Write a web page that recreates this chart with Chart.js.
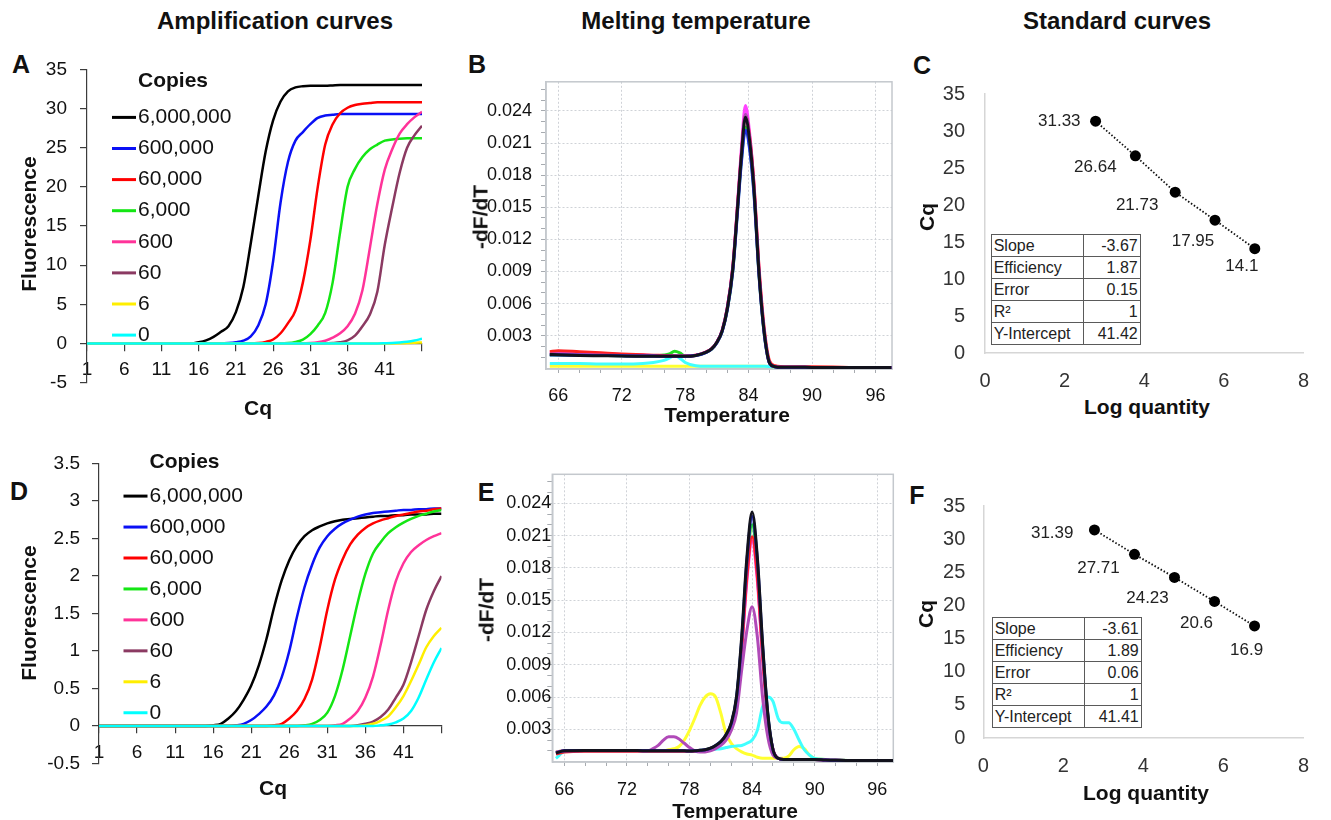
<!DOCTYPE html>
<html lang="en">
<head>
<meta charset="utf-8">
<title>qPCR amplification, melting and standard curves</title>
<script src="https://cdn.jsdelivr.net/npm/chart.js@4.4.1/dist/chart.umd.min.js"></script>
<style>
  html, body { margin: 0; padding: 0; background: #fff; }
  body { position: relative; width: 1331px; height: 820px; overflow: hidden;
         font-family: "Liberation Sans", Arial, Helvetica, sans-serif; color: #111; }
  canvas { position: absolute; }
  .t { position: absolute; transform: translate(-50%, -50%); white-space: nowrap;
       line-height: 1; font-weight: bold; }
  .t.v { transform: translate(-50%, -50%) rotate(-90deg); }
  .head { font-size: 24px; }
  .panel { font-size: 25px; }
  .axis { font-size: 21px; }
  table.stats { position: absolute; border-collapse: collapse; table-layout: fixed;
                font-size: 16px; color: #222; background: #fff; }
  table.stats td { border: 1px solid #5a5a5a; padding: 0 2px; height: 22px;
                   box-sizing: border-box; line-height: 20px; white-space: nowrap; }
  table.stats td.num { text-align: right; }
</style>
</head>
<body>

<!-- column headings -->
<div class="t head" style="left:275px;top:21px">Amplification curves</div>
<div class="t head" style="left:696px;top:21px">Melting temperature</div>
<div class="t head" style="left:1117px;top:21px">Standard curves</div>

<!-- panel letters -->
<div class="t panel" style="left:21px;top:64px">A</div>
<div class="t panel" style="left:477px;top:64px">B</div>
<div class="t panel" style="left:922px;top:65px">C</div>
<div class="t panel" style="left:19px;top:491px">D</div>
<div class="t panel" style="left:486px;top:492px">E</div>
<div class="t panel" style="left:917px;top:495px">F</div>

<canvas id="ampA" width="400" height="362" style="left:30px;top:45px"></canvas>
<canvas id="meltB" width="420" height="347" style="left:480px;top:62px"></canvas>
<canvas id="stdC" width="420" height="331" style="left:905px;top:62px"></canvas>
<canvas id="ampD" width="410" height="347" style="left:40px;top:440px"></canvas>
<canvas id="meltE" width="420" height="342" style="left:486px;top:460px"></canvas>
<canvas id="stdF" width="420" height="302" style="left:905px;top:476px"></canvas>

<!-- axis titles -->
<div class="t axis v" style="left:28px;top:224px">Fluorescence</div>
<div class="t axis" style="left:258px;top:407px">Cq</div>
<div class="t axis v" style="left:480px;top:217px">-dF/dT</div>
<div class="t axis" style="left:727px;top:414px">Temperature</div>
<div class="t axis v" style="left:926px;top:217px">Cq</div>
<div class="t axis" style="left:1147px;top:406px">Log quantity</div>
<div class="t axis v" style="left:28px;top:613px">Fluorescence</div>
<div class="t axis" style="left:273px;top:787px">Cq</div>
<div class="t axis v" style="left:486px;top:610px">-dF/dT</div>
<div class="t axis" style="left:735px;top:810px">Temperature</div>
<div class="t axis v" style="left:925px;top:614px">Cq</div>
<div class="t axis" style="left:1146px;top:792px">Log quantity</div>

<script>
Chart.defaults.font.family = '"Liberation Sans", Arial, Helvetica, sans-serif';
Chart.defaults.color = '#111';
Chart.defaults.animation = false;
Chart.defaults.plugins.legend.display = false;
Chart.defaults.plugins.tooltip.enabled = false;

// ---------- amplification curves (A, D) ----------
const cycles = [1, 2, 3, 4, 5, 6, 7, 8, 9, 10, 11, 12, 13, 14, 15, 16, 17, 18, 19, 20, 21, 22, 23,
  24, 25, 26, 27, 28, 29, 30, 31, 32, 33, 34, 35, 36, 37, 38, 39, 40, 41, 42, 43, 44, 45, 46];
const cycleTicks = [1, 6, 11, 16, 21, 26, 31, 36, 41, 46];
const copyLabels = ['6,000,000', '600,000', '60,000', '6,000', '600', '60', '6', '0'];
const copyColors = ['#000000', '#0a10f5', '#ff0000', '#14e614', '#ff3399', '#8b3a62', '#ffee00', '#00ffff'];

const ampA6000000 = [0, 0, 0, 0, 0, 0, 0, 0, 0, 0, 0, 0, 0, 0, 0,
  0.15, 0.4, 0.85, 1.5, 2.2, 4.0, 7.2, 12.8, 18.8, 24.5, 28.5, 30.9, 32.2, 32.7, 32.85, 32.9, 32.9, 32.9, 32.95,
  33, 33, 33, 33, 33, 33, 33, 33, 33, 33, 33, 33];
const ampA600000 = [0, 0, 0, 0, 0, 0, 0, 0, 0, 0, 0, 0, 0, 0, 0, 0, 0, 0, 0,
  0.05, 0.15, 0.35, 0.9, 2.3, 5.0, 10.5, 18.0, 23.2, 25.9, 27.0, 28.0, 28.8, 29.1, 29.2,
  29.3, 29.3, 29.3, 29.3, 29.3, 29.3, 29.3, 29.3, 29.3, 29.3, 29.3, 29.3];
const ampA60000 = [0, 0, 0, 0, 0, 0, 0, 0, 0, 0, 0, 0, 0, 0, 0, 0, 0, 0, 0, 0, 0, 0, 0,
  0.05, 0.2, 0.5, 1.3, 2.6, 4.2, 7.8, 13.2, 20, 25.4, 28, 29.4, 30.1, 30.45, 30.6, 30.7,
  30.8, 30.8, 30.8, 30.8, 30.8, 30.8, 30.8];
const ampA6000 = [0, 0, 0, 0, 0, 0, 0, 0, 0, 0, 0, 0, 0, 0, 0, 0, 0, 0, 0, 0, 0, 0, 0, 0, 0, 0, 0,
  0.05, 0.2, 0.5, 1.2, 2.3, 3.9, 7.8, 14.2, 20, 22.3, 23.8, 24.8, 25.4, 25.9, 26.05, 26.15, 26.2, 26.2, 26.2];
const ampA600 = [0, 0, 0, 0, 0, 0, 0, 0, 0, 0, 0, 0, 0, 0, 0, 0, 0, 0, 0, 0, 0, 0, 0, 0, 0, 0, 0, 0, 0, 0,
  0.05, 0.15, 0.35, 0.75, 1.3, 2.2, 3.8, 6.8, 12.2, 17.8, 22.2, 24.8, 26.8, 28.0, 28.9, 29.6];
const ampA60 = [0, 0, 0, 0, 0, 0, 0, 0, 0, 0, 0, 0, 0, 0, 0, 0, 0, 0, 0, 0, 0, 0, 0, 0, 0, 0, 0, 0, 0, 0,
  0, 0, 0, 0.05, 0.15, 0.4, 1.0, 2.2, 3.7, 6.6, 12.6, 17.4, 21.8, 25.0, 26.6, 27.8];
const ampA6 = [0, 0, 0, 0, 0, 0, 0, 0, 0, 0, 0, 0, 0, 0, 0, 0, 0, 0, 0, 0, 0, 0, 0, 0, 0, 0, 0, 0, 0, 0,
  0, 0, 0, 0, 0, 0, 0, 0, 0, 0, 0, 0, 0.02, 0.05, 0.08, 0.12];
const ampA0 = [0, 0, 0, 0, 0, 0, 0, 0, 0, 0, 0, 0, 0, 0, 0, 0, 0, 0, 0, 0, 0, 0, 0, 0, 0, 0, 0, 0, 0, 0,
  0, 0, 0, 0, 0, 0, 0, 0, 0, 0, 0.02, 0.05, 0.12, 0.22, 0.38, 0.6];

const ampD6000000 = [0, 0, 0, 0, 0, 0, 0, 0, 0, 0, 0, 0, 0, 0, 0,
  0.01, 0.03, 0.1, 0.2, 0.35, 0.54, 0.81, 1.16, 1.58, 1.94, 2.21, 2.4, 2.53, 2.61, 2.66, 2.7, 2.73, 2.75,
  2.76, 2.77, 2.78, 2.79, 2.8, 2.8, 2.81, 2.81, 2.82, 2.82, 2.82, 2.83, 2.83];
const ampD600000 = [0, 0, 0, 0, 0, 0, 0, 0, 0, 0, 0, 0, 0, 0, 0, 0, 0, 0,
  0.01, 0.03, 0.08, 0.16, 0.26, 0.41, 0.65, 1.0, 1.45, 1.85, 2.15, 2.38, 2.53, 2.63, 2.7, 2.75,
  2.79, 2.82, 2.84, 2.85, 2.86, 2.87, 2.88, 2.88, 2.89, 2.89, 2.9, 2.9];
const ampD60000 = [0, 0, 0, 0, 0, 0, 0, 0, 0, 0, 0, 0, 0, 0, 0, 0, 0, 0, 0, 0, 0, 0, 0,
  0.01, 0.03, 0.1, 0.2, 0.36, 0.62, 1.05, 1.55, 1.95, 2.22, 2.42, 2.55, 2.64, 2.7, 2.74, 2.77,
  2.8, 2.82, 2.84, 2.86, 2.87, 2.89, 2.9];
const ampD6000 = [0, 0, 0, 0, 0, 0, 0, 0, 0, 0, 0, 0, 0, 0, 0, 0, 0, 0, 0, 0, 0, 0, 0, 0, 0, 0, 0,
  0.01, 0.03, 0.08, 0.18, 0.4, 0.75, 1.2, 1.65, 2.03, 2.3, 2.45, 2.57, 2.65, 2.71, 2.76, 2.8, 2.83, 2.86, 2.88];
const ampD600 = [0, 0, 0, 0, 0, 0, 0, 0, 0, 0, 0, 0, 0, 0, 0, 0, 0, 0, 0, 0, 0, 0, 0, 0, 0, 0, 0, 0, 0, 0, 0,
  0.01, 0.03, 0.1, 0.2, 0.38, 0.66, 1.08, 1.55, 1.93, 2.17, 2.32, 2.41, 2.48, 2.53, 2.57];
const ampD60 = [0, 0, 0, 0, 0, 0, 0, 0, 0, 0, 0, 0, 0, 0, 0, 0, 0, 0, 0, 0, 0, 0, 0, 0, 0, 0, 0, 0, 0, 0,
  0, 0, 0, 0, 0.01, 0.03, 0.06, 0.12, 0.22, 0.38, 0.55, 0.85, 1.2, 1.55, 1.8, 2.0];
const ampD6 = [0, 0, 0, 0, 0, 0, 0, 0, 0, 0, 0, 0, 0, 0, 0, 0, 0, 0, 0, 0, 0, 0, 0, 0, 0, 0, 0, 0, 0, 0,
  0, 0, 0, 0, 0, 0.01, 0.03, 0.07, 0.13, 0.25, 0.4, 0.6, 0.82, 1.05, 1.2, 1.31];
const ampD0 = [0, 0, 0, 0, 0, 0, 0, 0, 0, 0, 0, 0, 0, 0, 0, 0, 0, 0, 0, 0, 0, 0, 0, 0, 0, 0, 0, 0, 0, 0,
  0, 0, 0, 0, 0, 0, 0, 0.01, 0.02, 0.05, 0.1, 0.2, 0.38, 0.62, 0.85, 1.04];

// ---------- melting curves (B, E) ----------
const meltColors = ['#12121c', '#1e2ee6', '#ff2020', '#22dd22', '#ff44ff', '#b04ab8', '#ffff30', '#40ffff'];
const meltOrder = [0, 1, 3, 5, 4, 2, 7, 6];
const tempTicks = [66, 68, 70, 72, 74, 76, 78, 80, 82, 84, 86, 88, 90, 92, 94, 96];
const tempLabels = [66, 72, 78, 84, 90, 96];
const dfdtTicks = [0.001, 0.002, 0.003, 0.004, 0.005, 0.006, 0.007, 0.008, 0.009, 0.010, 0.011, 0.012, 0.013,
  0.014, 0.015, 0.016, 0.017, 0.018, 0.019, 0.020, 0.021, 0.022, 0.023, 0.024, 0.025, 0.026];
const dfdtLabels = [0.003, 0.006, 0.009, 0.012, 0.015, 0.018, 0.021, 0.024];

const tempB = [65.2, 66, 68, 70, 72, 74, 75, 76, 76.5, 77, 77.5, 78, 79, 80, 80.5, 81, 81.5, 82, 82.5, 83,
  83.3, 83.7, 84.1, 84.5, 85, 85.5, 86, 86.5, 87, 88, 90, 92, 94, 96, 97.5];
const meltB6000000 = [0.00125, 0.00122, 0.00116, 0.00113, 0.0011, 0.00108, 0.00107, 0.00107, 0.00107, 0.00107,
  0.00107, 0.00107, 0.00116, 0.00146, 0.00177, 0.00238, 0.00345, 0.0056, 0.0092, 0.0156,
  0.0196, 0.0234, 0.0212, 0.0168, 0.0086, 0.0031, 0.0004, 0.0001, 0.00005, 0.00005, 0.00004, 0.00003, 0.00003, 0.00003, 0.00003];
const meltB600000 = [0.0012, 0.0012, 0.00118, 0.00115, 0.00112, 0.0011, 0.0011, 0.00108, 0.00108, 0.00108,
  0.00108, 0.00108, 0.00115, 0.00145, 0.00175, 0.00235, 0.0034, 0.0055, 0.009, 0.0152,
  0.019, 0.0222, 0.0204, 0.0163, 0.0084, 0.003, 0.0004, 0.0001, 0.00005, 0.00005, 0.00004, 0.00003, 0.00003, 0.00003, 0.00003];
const meltB60000 = [0.0015, 0.0016, 0.0015, 0.0014, 0.0013, 0.00122, 0.00118, 0.00115, 0.00113, 0.00112,
  0.0011, 0.0011, 0.00118, 0.0015, 0.0018, 0.0024, 0.0035, 0.0057, 0.0094, 0.0158,
  0.0198, 0.0236, 0.0216, 0.0173, 0.0092, 0.0035, 0.0006, 0.0002, 0.00012, 0.0001, 0.0001, 0.00008, 0.00003, 0.00003, 0.00003];
const meltB6000 = [0.0012, 0.0012, 0.00118, 0.00115, 0.00112, 0.0011, 0.00112, 0.0012, 0.0013, 0.00155,
  0.0014, 0.0011, 0.00115, 0.00145, 0.00175, 0.00235, 0.0034, 0.0055, 0.009, 0.0154,
  0.0192, 0.0225, 0.0206, 0.0165, 0.0085, 0.003, 0.0004, 0.0001, 0.00005, 0.00005, 0.00004, 0.00003, 0.00003, 0.00003, 0.00003];
const meltB600 = [0.0014, 0.0014, 0.00135, 0.0013, 0.00125, 0.0012, 0.00115, 0.00112, 0.0011, 0.0011,
  0.0011, 0.0011, 0.00118, 0.0015, 0.0018, 0.0024, 0.0035, 0.0057, 0.0094, 0.016,
  0.0203, 0.0245, 0.0219, 0.0172, 0.0089, 0.0032, 0.0004, 0.0001, 0.00005, 0.00005, 0.00004, 0.00003, 0.00003, 0.00003, 0.00003];
const meltB60 = [0.0013, 0.0013, 0.00125, 0.0012, 0.00115, 0.0011, 0.0011, 0.00108, 0.00108, 0.00108,
  0.00108, 0.00108, 0.00116, 0.00147, 0.00178, 0.0024, 0.0035, 0.0057, 0.0093, 0.0157,
  0.0197, 0.0237, 0.0214, 0.017, 0.0088, 0.0032, 0.0004, 0.0001, 0.00005, 0.00005, 0.00004, 0.00003, 0.00003, 0.00003, 0.00003];
const meltB6 = [0.00015, 0.00015, 0.00015, 0.00015, 0.00015, 0.00015, 0.00015, 0.00015, 0.00015, 0.00015,
  0.00015, 0.00015, 0.00015, 0.00015, 0.00015, 0.00015, 0.00015, 0.00015, 0.00015, 0.00015,
  0.00015, 0.00015, 0.00015, 0.00015, 0.00015, 0.00015, 0.00012, 0.00008, 0.00005, 0.00005, 0.00004, 0.00003, 0.00003, 0.00003, 0.00003];
const meltB0 = [0.0004, 0.0004, 0.0004, 0.00035, 0.00035, 0.0004, 0.0005, 0.0007, 0.0009, 0.00115,
  0.0009, 0.0005, 0.0002, 0.00015, 0.00015, 0.00015, 0.00015, 0.00015, 0.00015, 0.00015,
  0.00015, 0.00015, 0.00015, 0.00015, 0.00015, 0.00015, 0.00012, 0.00008, 0.00005, 0.00005, 0.00004, 0.00003, 0.00003, 0.00003, 0.00003];

const tempE = [65.2, 66, 68, 70, 72, 73, 74, 74.5, 75, 75.5, 76, 76.5, 77, 77.5, 78, 78.5, 79, 79.5, 80, 80.5,
  81, 81.5, 82, 82.5, 83, 83.5, 84, 84.5, 85, 85.5, 86, 86.5, 87, 87.5, 88, 88.5, 89, 89.5, 90, 91, 92, 94, 96, 97.5];
const meltE6000000 = [0.0008, 0.001, 0.00102, 0.00102, 0.00102, 0.00102, 0.001, 0.001, 0.001, 0.001,
  0.001, 0.001, 0.001, 0.001, 0.00098, 0.001, 0.00105, 0.0011, 0.00124, 0.0015,
  0.00186, 0.0025, 0.0036, 0.006, 0.0116, 0.019, 0.0232, 0.019, 0.011, 0.0045,
  0.0011, 0.0003, 0.0002, 0.0002, 0.0002, 0.0002, 0.0002, 0.0002, 0.0002, 0.00015, 0.00012, 0.0001, 0.0001, 0.0001];
const meltE600000 = [0.0008, 0.001, 0.00102, 0.00102, 0.00102, 0.00102, 0.001, 0.001, 0.001, 0.001,
  0.001, 0.001, 0.001, 0.001, 0.00098, 0.001, 0.00105, 0.0011, 0.00123, 0.0015,
  0.00185, 0.0025, 0.0035, 0.0059, 0.0113, 0.0186, 0.0228, 0.0187, 0.0108, 0.0044,
  0.0011, 0.0003, 0.0002, 0.0002, 0.0002, 0.0002, 0.0002, 0.0002, 0.0002, 0.00015, 0.00012, 0.0001, 0.0001, 0.0001];
const meltE60000 = [0.0007, 0.0009, 0.00095, 0.00095, 0.00095, 0.00095, 0.00095, 0.00095, 0.00095, 0.00095,
  0.00095, 0.00095, 0.00095, 0.00095, 0.00095, 0.00097, 0.001, 0.00108, 0.0012, 0.00145,
  0.0018, 0.0024, 0.0034, 0.0056, 0.0105, 0.0172, 0.0209, 0.0172, 0.0099, 0.0041,
  0.0011, 0.0003, 0.0002, 0.0002, 0.0002, 0.0002, 0.0002, 0.0002, 0.0002, 0.00015, 0.00012, 0.0001, 0.0001, 0.0001];
const meltE6000 = [0.0008, 0.001, 0.001, 0.001, 0.001, 0.001, 0.001, 0.001, 0.001, 0.001,
  0.001, 0.001, 0.001, 0.001, 0.00098, 0.001, 0.00104, 0.0011, 0.00122, 0.00148,
  0.00183, 0.0024, 0.0035, 0.0058, 0.011, 0.018, 0.022, 0.018, 0.0104, 0.0043,
  0.0011, 0.0003, 0.0002, 0.0002, 0.0002, 0.0002, 0.0002, 0.0002, 0.0002, 0.00015, 0.00012, 0.0001, 0.0001, 0.0001];
const meltE600 = [0.0008, 0.001, 0.001, 0.001, 0.001, 0.001, 0.001, 0.001, 0.001, 0.001,
  0.001, 0.001, 0.001, 0.001, 0.00098, 0.001, 0.00103, 0.00108, 0.0012, 0.00145,
  0.0018, 0.0024, 0.0034, 0.0056, 0.0103, 0.0168, 0.0205, 0.0168, 0.0097, 0.004,
  0.0011, 0.0003, 0.0002, 0.0002, 0.0002, 0.0002, 0.0002, 0.0002, 0.0002, 0.00015, 0.00012, 0.0001, 0.0001, 0.0001];
const meltE60 = [0.0009, 0.001, 0.001, 0.001, 0.001, 0.001, 0.001, 0.0012, 0.0015, 0.002,
  0.0023, 0.0023, 0.0021, 0.0017, 0.0013, 0.001, 0.0009, 0.0009, 0.001, 0.0012,
  0.0015, 0.002, 0.0029, 0.0045, 0.0085, 0.0122, 0.0144, 0.0116, 0.006, 0.0023,
  0.0006, 0.0003, 0.0002, 0.0002, 0.0002, 0.0002, 0.0002, 0.0002, 0.0002, 0.00015, 0.00012, 0.0001, 0.0001, 0.0001];
const meltE6 = [0.0009, 0.001, 0.001, 0.001, 0.001, 0.001, 0.001, 0.001, 0.001, 0.001,
  0.0011, 0.0012, 0.0014, 0.002, 0.0029, 0.004, 0.0052, 0.006, 0.0063, 0.006,
  0.0045, 0.0026, 0.0017, 0.0012, 0.0009, 0.0007, 0.0006, 0.0004, 0.0003, 0.0003,
  0.0003, 0.0003, 0.0003, 0.0005, 0.0011, 0.0014, 0.0012, 0.0006, 0.0003, 0.0002, 0.00015, 0.0001, 0.0001, 0.0001];
const meltE0 = [0.0003, 0.0009, 0.001, 0.001, 0.001, 0.001, 0.001, 0.001, 0.001, 0.001,
  0.001, 0.001, 0.001, 0.001, 0.001, 0.001, 0.001, 0.00105, 0.0011, 0.00115,
  0.0012, 0.0013, 0.0014, 0.00145, 0.0015, 0.0017, 0.002, 0.0029, 0.0051, 0.006,
  0.0056, 0.004, 0.0036, 0.0036, 0.003, 0.002, 0.0011, 0.0006, 0.0003, 0.0002, 0.00015, 0.0001, 0.0001, 0.0001];

// ---------- standard curves (C, F) ----------
const logQuantity = [2.778, 3.778, 4.778, 5.778, 6.778];
const cqC = [31.33, 26.64, 21.73, 17.95, 14.1];
const cqF = [31.39, 27.71, 24.23, 20.6, 16.9];
const statNames = ['Slope', 'Efficiency', 'Error', 'R²', 'Y-Intercept'];
const statsC = ['-3.67', '1.87', '0.15', '1', '41.42'];
const statsF = ['-3.61', '1.89', '0.06', '1', '41.41'];

// legend drawn inside the plot: "Copies" heading plus one row per dataset
const copiesLegend = {
  id: 'copiesLegend',
  afterDatasetsDraw(chart, args, opts) {
    const { ctx, chartArea } = chart;
    const x0 = chartArea.left + opts.dx;
    const y0 = chartArea.top + opts.dy;
    ctx.save();
    ctx.textBaseline = 'middle';
    ctx.fillStyle = '#111';
    ctx.font = 'bold 21px "Liberation Sans", Arial, sans-serif';
    ctx.fillText(opts.title, x0 + 26, y0);
    ctx.font = '21px "Liberation Sans", Arial, sans-serif';
    chart.data.datasets.forEach((ds, i) => {
      const y = y0 + opts.firstRow + i * opts.rowGap;
      ctx.strokeStyle = ds.borderColor;
      ctx.lineWidth = 3;
      ctx.beginPath();
      ctx.moveTo(x0, y);
      ctx.lineTo(x0 + 24, y);
      ctx.stroke();
      ctx.fillText(ds.label, x0 + 26, y);
    });
    ctx.restore();
  }
};

// light box round the melt plots
const plotFrame = {
  id: 'plotFrame',
  beforeDatasetsDraw(chart, args, opts) {
    const { ctx, chartArea: a } = chart;
    ctx.save();
    ctx.strokeStyle = opts.color;
    ctx.lineWidth = 1.5;
    ctx.strokeRect(a.left, a.top, a.right - a.left, a.bottom - a.top);
    ctx.restore();
  }
};

// Cq value written beside each standard point
const pointTags = {
  id: 'pointTags',
  afterDatasetsDraw(chart, args, opts) {
    const { ctx } = chart;
    const ds = chart.data.datasets[0];
    const meta = chart.getDatasetMeta(0);
    ctx.save();
    ctx.font = '17px "Liberation Sans", Arial, sans-serif';
    ctx.fillStyle = '#222';
    ctx.textBaseline = 'middle';
    meta.data.forEach((pt, i) => {
      const [dx, dy, align] = opts.nudges[i];
      ctx.textAlign = align;
      ctx.fillText(String(ds.data[i].y), pt.x + dx, pt.y + dy);
    });
    ctx.restore();
  }
};

function amplificationChart(id, series, yRange, box, legend) {
  const ink = '#3c3c3c';
  return new Chart(document.getElementById(id), {
    type: 'line',
    data: {
      datasets: series.map((values, i) => ({
        label: copyLabels[i],
        data: values.map((v, k) => ({ x: cycles[k], y: v })),
        borderColor: copyColors[i],
        borderWidth: 2.5,
        pointRadius: 0,
        cubicInterpolationMode: 'monotone',
        order: series.length - i
      }))
    },
    options: {
      responsive: false,
      layout: { padding: box.padding },
      scales: {
        x: {
          type: 'linear', min: 1, max: 46, position: { y: 0 },
          afterBuildTicks: s => { s.ticks = cycleTicks.map(v => ({ value: v })); },
          afterFit: s => { s.height = 10; },
          grid: { drawOnChartArea: false, tickLength: 7, color: ink, lineWidth: 1.2 },
          border: { color: ink, width: 1.2 },
          ticks: {
            autoSkip: false, maxRotation: 0, padding: box.xPad, font: { size: 19 }, color: '#111',
            callback: v => (v === 46 ? '' : String(v))
          }
        },
        y: {
          min: yRange.min, max: yRange.max,
          afterFit: s => { s.width = box.yWidth; },
          grid: { drawOnChartArea: false, tickLength: 7, color: ink, lineWidth: 1.2 },
          border: { color: ink, width: 1.2 },
          ticks: {
            stepSize: yRange.step, padding: box.yPad, font: { size: 19 }, color: '#111',
            callback: v => String(Math.round(v * 100) / 100)
          }
        }
      },
      plugins: { copiesLegend: legend }
    },
    plugins: [copiesLegend]
  });
}

function meltChart(id, temps, series, range, box) {
  const gridInk = '#cfd2d7';
  const frameInk = '#c4c8cd';
  const tickInk = '#a7abb0';
  const isMajorY = v => dfdtLabels.some(m => Math.abs(m - v) < 1e-7);
  return new Chart(document.getElementById(id), {
    type: 'line',
    data: {
      datasets: series.map((values, i) => ({
        label: copyLabels[i],
        data: values.map((v, k) => ({ x: temps[k], y: v })),
        borderColor: meltColors[i],
        borderWidth: 3,
        pointRadius: 0,
        cubicInterpolationMode: 'monotone',
        order: meltOrder[i]
      }))
    },
    options: {
      responsive: false,
      layout: { padding: box.padding },
      scales: {
        x: {
          type: 'linear', min: range.xMin, max: range.xMax,
          afterBuildTicks: s => { s.ticks = tempTicks.map(v => ({ value: v })); },
          afterFit: s => { s.height = 40; },
          grid: {
            color: c => (c.tick && tempLabels.includes(c.tick.value) ? gridInk : 'rgba(0,0,0,0)'),
            tickColor: tickInk, tickLength: 4, lineWidth: 1
          },
          border: { color: frameInk, width: 1.5, dash: [2, 2] },
          ticks: {
            autoSkip: false, maxRotation: 0, padding: box.xPad, font: { size: 18 }, color: '#111',
            callback: v => (tempLabels.includes(v) ? String(v) : '')
          }
        },
        y: {
          min: range.yMin, max: range.yMax,
          afterBuildTicks: s => { s.ticks = dfdtTicks.map(v => ({ value: v })); },
          afterFit: s => { s.width = box.yWidth; },
          grid: {
            color: c => (c.tick && isMajorY(c.tick.value) ? gridInk : 'rgba(0,0,0,0)'),
            tickColor: tickInk, tickLength: 5, lineWidth: 1
          },
          border: { color: frameInk, width: 1.5, dash: [2, 2] },
          ticks: {
            autoSkip: false, padding: box.yPad, font: { size: 18 }, color: '#111',
            callback: v => (isMajorY(v) ? v.toFixed(3) : '')
          }
        }
      },
      plugins: { plotFrame: { color: frameInk } }
    },
    plugins: [plotFrame]
  });
}

function standardChart(id, cq, box, nudges) {
  const axisInk = '#d6d6d6';
  return new Chart(document.getElementById(id), {
    type: 'scatter',
    data: {
      datasets: [{
        data: logQuantity.map((x, i) => ({ x, y: cq[i] })),
        showLine: true,
        borderColor: '#111',
        borderWidth: 1.8,
        borderDash: [1.5, 2],
        pointRadius: 5.5,
        pointBackgroundColor: '#000',
        pointBorderWidth: 0
      }]
    },
    options: {
      responsive: false,
      layout: { padding: box.padding },
      scales: {
        x: {
          min: 0, max: 8,
          afterFit: s => { s.height = 40; },
          grid: { display: false, drawTicks: false },
          border: { color: axisInk, width: 1.5 },
          ticks: { stepSize: 2, padding: 16, font: { size: 20 }, color: '#333' }
        },
        y: {
          min: 0, max: 35,
          afterFit: s => { s.width = box.yWidth; },
          grid: { display: false, drawTicks: false },
          border: { color: axisInk, width: 1.5 },
          ticks: { stepSize: 5, padding: box.yPad, font: { size: 20 }, color: '#333' }
        }
      },
      plugins: { pointTags: { nudges } }
    },
    plugins: [pointTags]
  });
}

function statsTable(values, left, top) {
  const table = document.createElement('table');
  table.className = 'stats';
  table.style.left = left + 'px';
  table.style.top = top + 'px';
  table.style.width = '149px';
  const cols = document.createElement('colgroup');
  cols.innerHTML = '<col style="width:92.5px"><col style="width:56.5px">';
  table.appendChild(cols);
  statNames.forEach((name, i) => {
    const row = table.insertRow();
    row.insertCell().textContent = name;
    const cell = row.insertCell();
    cell.className = 'num';
    cell.textContent = values[i];
  });
  document.body.appendChild(table);
}

amplificationChart('ampA',
  [ampA6000000, ampA600000, ampA60000, ampA6000, ampA600, ampA60, ampA6, ampA0],
  { min: -5, max: 35, step: 5 },
  { padding: { left: 0, top: 12, right: 2, bottom: 5 }, yWidth: 57, yPad: 13, xPad: 8 },
  { title: 'Copies', dx: 25, dy: 11.5, firstRow: 36.5, rowGap: 31.1 });

amplificationChart('ampD',
  [ampD6000000, ampD600000, ampD60000, ampD6000, ampD600, ampD60, ampD6, ampD0],
  { min: -0.5, max: 3.5, step: 0.5 },
  { padding: { left: 0, top: 14, right: 2, bottom: 5 }, yWidth: 59, yPad: 12, xPad: 8.5 },
  { title: 'Copies', dx: 24.5, dy: -0.7, firstRow: 33.4, rowGap: 30.95 });

meltChart('meltB', tempB,
  [meltB6000000, meltB600000, meltB60000, meltB6000, meltB600, meltB60, meltB6, meltB0],
  { xMin: 64.84, xMax: 97.56, yMin: -0.00011, yMax: 0.02672 },
  { padding: { left: 0, top: 14, right: 8, bottom: 0 }, yWidth: 66, yPad: 9, xPad: 12 });

meltChart('meltE', tempE,
  [meltE6000000, meltE600000, meltE60000, meltE6000, meltE600, meltE60, meltE6, meltE0],
  { xMin: 64.85, xMax: 97.53, yMin: -0.00004, yMax: 0.0267 },
  { padding: { left: 0, top: 14.3, right: 12.7, bottom: 0 }, yWidth: 66.3, yPad: -4, xPad: 13 });

standardChart('stdC', cqC,
  { padding: { left: 0, top: 15, right: 15.6, bottom: 0 }, yWidth: 80, yPad: 20 },
  [[-15, 0, 'right'], [-40, 11, 'center'], [-38, 13, 'center'], [-22, 21, 'center'], [-13, 18, 'center']]);

standardChart('stdF', cqF,
  { padding: { left: 0, top: 14.7, right: 16.7, bottom: 0 }, yWidth: 78.3, yPad: 18 },
  [[-21, 3, 'right'], [-36, 14, 'center'], [-27, 21, 'center'], [-18, 22, 'center'], [-8, 24, 'center']]);

statsTable(statsC, 990.7, 234);
statsTable(statsF, 991.7, 617.3);
</script>
</body>
</html>
